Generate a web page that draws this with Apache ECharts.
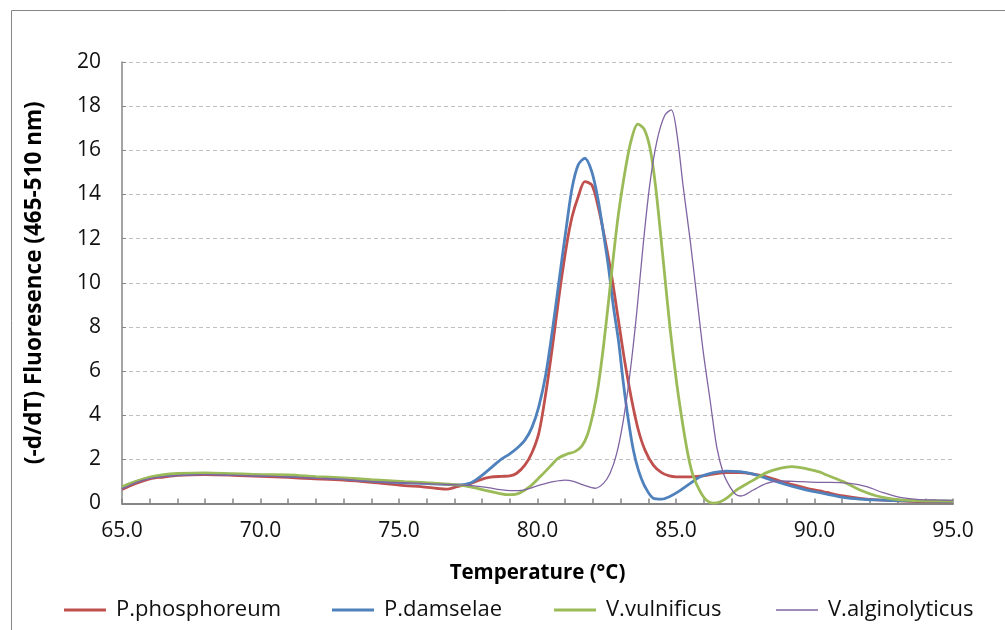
<!DOCTYPE html>
<html>
<head>
<meta charset="utf-8">
<script src="https://cdn.jsdelivr.net/npm/echarts@6/dist/echarts.min.js"></script>
<style>html,body{margin:0;padding:0;background:#fff;}#c{width:1005px;height:630px;}</style>
</head>
<body>
<div id="c"></div>
<script>
// [temperature °C, -d/dT fluorescence]
const seriesNames = ['P.phosphoreum', 'P.damselae', 'V.vulnificus', 'V.alginolyticus'];

const phosphoreum = [
  [65.0,0.64],[65.5,0.91],[66.0,1.12],[66.5,1.2],[67.0,1.27],[68.0,1.31],[69.0,1.28],[70.0,1.23],
  [71.0,1.18],[71.8,1.13],[73.0,1.06],[74.0,0.96],[75.2,0.81],[75.8,0.76],[76.4,0.68],[76.7,0.65],
  [77.1,0.76],[77.6,0.91],[77.9,1.06],[78.3,1.19],[78.7,1.23],[79.0,1.25],[79.25,1.37],[79.55,1.75],
  [79.8,2.3],[80.05,3.2],[80.3,5.0],[80.55,7.2],[80.8,9.6],[81.05,11.7],[81.25,13.0],[81.47,13.9],
  [81.71,14.58],[81.96,14.43],[82.19,13.45],[82.44,11.94],[82.68,10.28],[82.92,8.31],[83.16,6.35],
  [83.4,4.69],[83.64,3.33],[83.88,2.42],[84.18,1.74],[84.48,1.4],[84.76,1.25],[85.0,1.21],[85.5,1.21],
  [85.87,1.24],[86.35,1.33],[86.83,1.40],[87.31,1.40],[87.79,1.33],[88.27,1.21],[88.75,1.02],
  [89.24,0.84],[89.72,0.69],[90.2,0.57],[90.44,0.5],[91.04,0.34],[91.64,0.23],[92.25,0.16],
  [93.45,0.1],[95.0,0.08]
];

const damselae = [
  [65.0,0.7],[65.5,0.98],[66.0,1.17],[66.5,1.26],[67.0,1.3],[68.0,1.35],[69.0,1.32],[70.0,1.28],
  [71.0,1.24],[72.0,1.18],[73.0,1.12],[74.0,1.01],[75.2,0.94],[76.4,0.88],[77.2,0.84],[77.6,0.94],
  [77.9,1.18],[78.3,1.59],[78.65,1.97],[79.0,2.25],[79.3,2.55],[79.55,2.88],[79.8,3.45],[80.05,4.4],
  [80.3,5.85],[80.55,7.95],[80.8,10.3],[81.05,12.6],[81.25,14.3],[81.47,15.34],[81.71,15.64],
  [81.96,15.03],[82.19,13.75],[82.38,12.24],[82.56,10.73],[82.74,8.92],[82.92,7.41],[83.1,5.45],
  [83.28,3.78],[83.46,2.42],[83.64,1.52],[83.88,0.76],[84.18,0.24],[84.48,0.2],[84.76,0.31],
  [85.1,0.55],[85.5,0.9],[85.87,1.21],[86.35,1.4],[86.83,1.47],[87.31,1.44],[87.79,1.33],
  [88.27,1.14],[88.75,0.94],[89.24,0.76],[89.72,0.61],[90.2,0.49],[90.44,0.43],[91.04,0.28],
  [91.64,0.2],[92.25,0.16],[93.45,0.12],[95.0,0.1]
];

const vulnificus = [
  [65.0,0.76],[65.5,1.0],[66.0,1.2],[66.5,1.31],[67.0,1.36],[68.0,1.39],[69.0,1.35],[70.0,1.31],
  [71.0,1.3],[72.0,1.22],[73.0,1.16],[74.0,1.08],[75.2,0.99],[76.4,0.91],[77.1,0.84],[77.7,0.72],
  [78.2,0.57],[78.65,0.45],[78.9,0.4],[79.3,0.45],[79.7,0.74],[80.1,1.22],[80.45,1.67],[80.75,2.05],
  [81.05,2.23],[81.35,2.35],[81.6,2.6],[81.8,3.1],[82.01,4.1],[82.19,5.3],[82.38,7.1],[82.56,9.1],
  [82.74,11.18],[82.92,13.1],[83.14,14.9],[83.37,16.39],[83.62,17.19],[83.85,16.96],[84.06,16.1],
  [84.26,14.4],[84.54,11.0],[84.78,8.0],[85.03,5.4],[85.26,3.45],[85.45,2.1],[85.62,1.25],
  [85.87,0.55],[86.1,0.15],[86.35,0.02],[86.6,0.08],[86.83,0.24],[87.19,0.62],[87.5,0.85],
  [87.79,1.06],[88.27,1.40],[88.75,1.59],[89.18,1.67],[89.72,1.57],[90.2,1.42],[90.44,1.29],
  [91.04,0.99],[91.64,0.61],[92.25,0.34],[92.85,0.2],[93.45,0.14],[94.05,0.12],[95.0,0.11]
];

const alginolyticus = [
  [65.0,0.66],[65.5,0.95],[66.0,1.13],[66.5,1.22],[67.0,1.27],[68.0,1.31],[69.0,1.28],[70.0,1.25],
  [71.0,1.21],[72.0,1.15],[73.0,1.1],[74.0,1.0],[75.2,0.94],[76.4,0.88],[77.1,0.84],[77.7,0.8],
  [78.2,0.72],[78.65,0.63],[79.0,0.58],[79.5,0.61],[80.1,0.84],[80.57,0.99],[80.99,1.06],[81.3,1.0],
  [81.65,0.84],[82.08,0.69],[82.38,0.91],[82.62,1.37],[82.86,2.27],[83.1,3.78],[83.34,5.9],
  [83.58,8.62],[83.82,11.79],[84.06,14.51],[84.32,16.47],[84.6,17.6],[84.83,17.83],[85.03,16.77],
  [85.26,14.35],[85.51,11.94],[85.75,9.37],[85.99,6.81],[86.23,4.69],[86.47,2.57],[86.71,1.37],
  [86.95,0.75],[87.15,0.42],[87.35,0.34],[87.79,0.61],[88.27,0.91],[88.75,1.02],[89.48,0.99],
  [90.2,0.96],[90.56,0.96],[91.28,0.91],[91.88,0.76],[92.48,0.49],[93.09,0.28],[93.69,0.19],
  [94.41,0.16],[95.0,0.14]
];

const seriesData = [phosphoreum, damselae, vulnificus, alginolyticus];
const colors = ['#C0504D', '#4F81BD', '#9BBB59', '#8064A2'];
const widths = [2.8, 2.8, 2.8, 1.3];
const legendLeft = [64, 332, 554, 776];

const FONT = '"Open Sans", "Liberation Sans", sans-serif';

const chart = echarts.init(document.getElementById('c'), null, {renderer: 'canvas'});

chart.setOption({
  animation: false,
  backgroundColor: '#ffffff',
  textStyle: {fontFamily: FONT},
  graphic: [{
    type: 'rect', silent: true, z: -10,
    shape: {x: 11.5, y: 10.5, width: 1200, height: 1200},
    style: {fill: 'none', stroke: '#868686', lineWidth: 1}
  }],
  grid: {left: 122, right: 52, top: 62, bottom: 126.5, containLabel: false},
  legend: seriesNames.map((n, i) => ({
    data: [n],
    left: legendLeft[i],
    top: 599,
    padding: 0,
    icon: 'rect',
    itemWidth: 42,
    itemHeight: i === 3 ? 1.5 : 3,
    textStyle: {fontFamily: FONT, fontSize: 22, color: '#111', padding: [3, 0, 0, 5]}
  })),
  xAxis: {
    type: 'value',
    min: 65, max: 95, interval: 1,
    name: 'Temperature (°C)',
    nameLocation: 'middle',
    nameGap: 59,
    nameTextStyle: {fontFamily: FONT, fontSize: 20.5, fontWeight: 'bold', color: '#000'},
    axisLine: {show: true, onZero: false, lineStyle: {color: '#868686', width: 2}},
    axisTick: {show: true, inside: true, length: 5, lineStyle: {color: '#868686', width: 1.5}},
    axisLabel: {
      fontFamily: FONT, fontSize: 21, color: '#111', margin: 17,
      formatter: v => (Math.round(v) % 5 === 0 ? Number(v).toFixed(1) : '')
    },
    splitLine: {show: false}
  },
  yAxis: {
    type: 'value',
    min: 0, max: 20, interval: 2,
    name: '(-d/dT) Fluoresence (465-510 nm)',
    nameLocation: 'middle',
    nameGap: 76,
    nameTextStyle: {fontFamily: FONT, fontSize: 22.5, fontWeight: 'bold', color: '#000'},
    axisLine: {show: true, lineStyle: {color: '#868686', width: 1.5}},
    axisTick: {show: true, inside: true, length: 4, lineStyle: {color: '#868686'}},
    axisLabel: {fontFamily: FONT, fontSize: 21, color: '#111', margin: 21},
    splitLine: {show: true, lineStyle: {color: '#BFBFBF', type: [4, 3], width: 1}}
  },
  series: seriesNames.map((n, i) => ({
    name: n,
    type: 'line',
    data: seriesData[i],
    showSymbol: false,
    symbol: 'none',
    smooth: 0.3,
    color: colors[i],
    lineStyle: {color: colors[i], width: widths[i]},
    z: 2 + i
  }))
});
</script>
</body>
</html>
